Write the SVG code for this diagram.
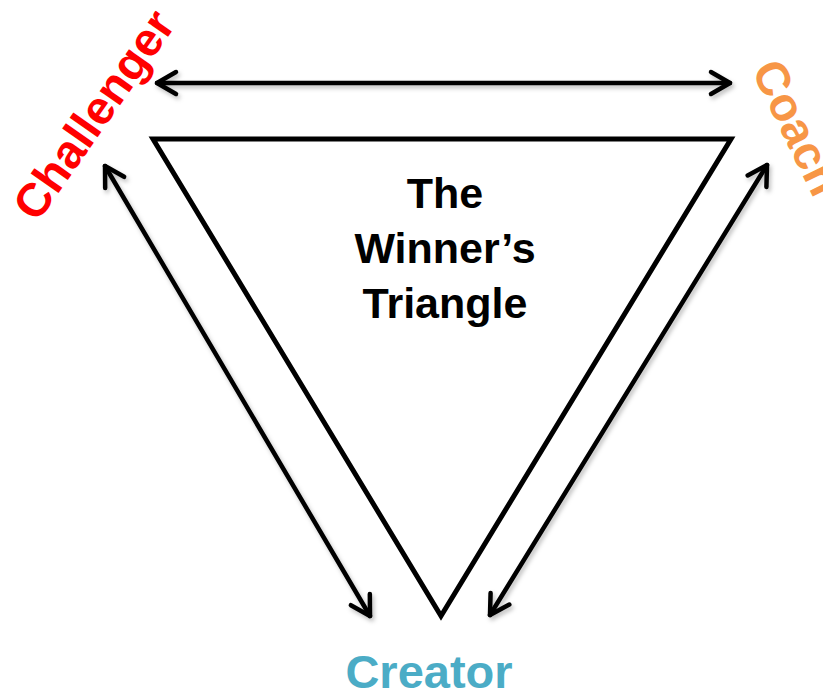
<svg xmlns="http://www.w3.org/2000/svg" width="823" height="697" viewBox="0 0 823 697">
<style>
.lbl{font-family:"Liberation Sans",Arial,sans-serif;font-weight:bold;font-size:47px}
.title{font-family:"Liberation Sans",Arial,sans-serif;font-weight:bold;font-size:43px;fill:#000;text-anchor:middle}
.arr{fill:none;stroke:#000;stroke-width:4.5;stroke-linecap:round;marker-start:url(#head);marker-end:url(#head);filter:url(#sh)}
</style>
<defs>
<marker id="head" markerUnits="userSpaceOnUse" markerWidth="40" markerHeight="40" viewBox="-30 -20 40 40" refX="0" refY="0" orient="auto-start-reverse" overflow="visible">
<path d="M -19 -11 L 0 0 L -19 11" fill="none" stroke="#000" stroke-width="4.5" stroke-linecap="round" stroke-linejoin="round"/>
</marker>
<filter id="sh" filterUnits="userSpaceOnUse" x="0" y="0" width="823" height="697">
<feDropShadow dx="2" dy="3" stdDeviation="2" flood-color="#000" flood-opacity="0.25"/>
</filter>
</defs>
<rect width="823" height="697" fill="#fff"/>
<g id="connectors">
<line class="arr" x1="157" y1="83" x2="730" y2="83"/>
<line class="arr" x1="105" y1="166" x2="370" y2="616"/>
<line class="arr" x1="767" y1="165" x2="490" y2="615"/>
</g>
<g id="triangle">
<polygon points="153,139 731,139 441,616" fill="none" stroke="#000" stroke-width="5" stroke-linejoin="miter"/>
<text class="title" x="445" y="208">The</text>
<text class="title" x="445" y="263">Winner’s</text>
<text class="title" x="445" y="318">Triangle</text>
</g>
<g id="challenger">
<text class="lbl" fill="#FF0000" text-anchor="middle" transform="translate(107,124) rotate(-55)">Challenger</text>
</g>
<g id="coach">
<text class="lbl" fill="#F79646" transform="translate(751,70) rotate(64)">Coach</text>
</g>
<g id="creator">
<text class="lbl" fill="#4BACC6" text-anchor="middle" x="429" y="688">Creator</text>
</g>
</svg>
